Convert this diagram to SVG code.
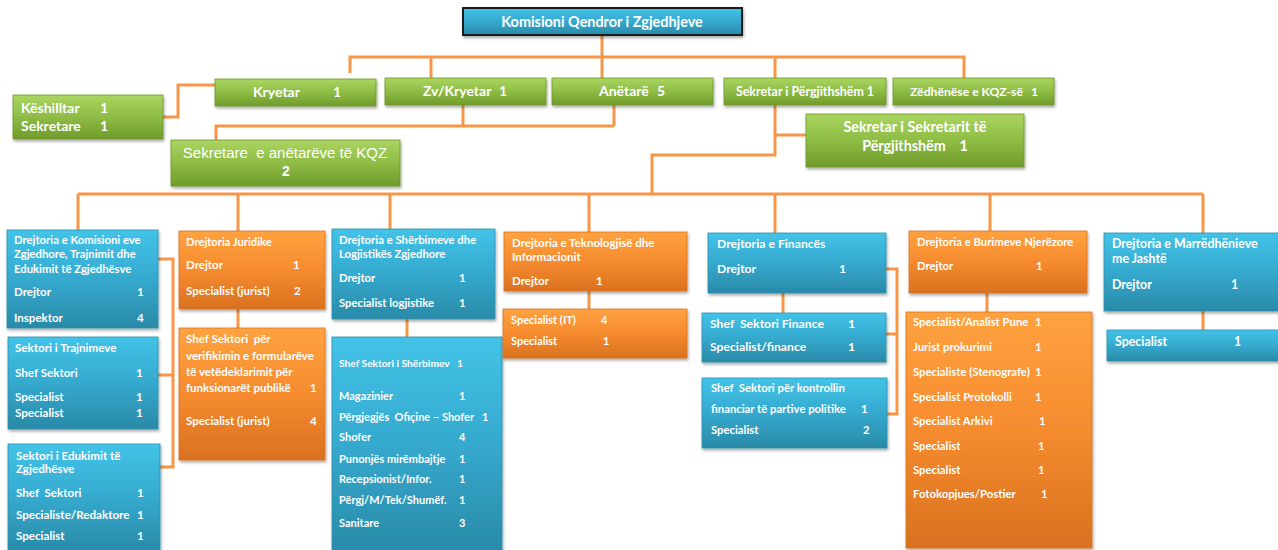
<svg xmlns="http://www.w3.org/2000/svg" width="1278" height="550" viewBox="0 0 1278 550">
<style>
.c{fill:none;stroke:#F79646;stroke-width:3}
.t{font-family:Lato,"Liberation Sans",sans-serif;font-weight:700;fill:#fff;font-size:11px}
.b{fill:url(#gb);stroke:#2C8FAE;stroke-width:0.8;filter:url(#sh)}
.o{fill:url(#go);stroke:#D97320;stroke-width:0.8;filter:url(#sh)}
.g{fill:url(#gg);stroke:#6E962C;stroke-width:0.8;filter:url(#sh)}
</style>
<defs>
<linearGradient id="gb" x1="0" y1="0" x2="0" y2="1"><stop offset="0" stop-color="#43C3E8"/><stop offset="0.5" stop-color="#35A9CE"/><stop offset="1" stop-color="#2A8AA8"/></linearGradient>
<linearGradient id="go" x1="0" y1="0" x2="0" y2="1"><stop offset="0" stop-color="#FFA23F"/><stop offset="0.5" stop-color="#F68B2F"/><stop offset="1" stop-color="#D9711F"/></linearGradient>
<linearGradient id="gg" x1="0" y1="0" x2="0" y2="1"><stop offset="0" stop-color="#AAD561"/><stop offset="0.5" stop-color="#8EBC45"/><stop offset="1" stop-color="#709B2B"/></linearGradient>
<filter id="sh" x="-10%" y="-10%" width="120%" height="130%"><feDropShadow dx="1" dy="2" stdDeviation="1.5" flood-color="#000" flood-opacity="0.35"/></filter>
</defs>

<g id="connectors">
<path class="c" d="M602,34V78"/>
<path class="c" d="M350,73V57H964V78"/>
<path class="c" d="M431,57V78M775,57V78"/>
<path class="c" d="M163,117H178V85H215"/>
<path class="c" d="M463,105V126M614,105V126M216,140V126H614"/>
<path class="c" d="M775,105V155H652V194M775,135H806"/>
<path class="c" d="M78,194H1203"/>
<path class="c" d="M78,194V230M238,194V231M390,194V229M589,194V232M775,194V233M990,194V231M1203,194V233"/>
<path class="c" d="M158,259H173V467H160M173,375H158"/>
<path class="c" d="M238,309V328M407,319V337M589,291V309M783,293V313M987,293V312M1203,311V330"/>
<path class="c" d="M886,269H897V414H887M897,334H886"/>
</g>

<g id="kqz">
<rect x="463" y="8" width="279" height="27" fill="url(#gb)" stroke="#1a1a1a" stroke-width="2" filter="url(#sh)"/>
<text class="t" x="602" y="27" style="font-size:14.4px" text-anchor="middle">Komisioni Qendror i Zgjedhjeve</text>
</g>

<g id="kryetar">
<rect class="g" x="215" y="79" width="161" height="27"/>
<text class="t" style="font-size:14px" y="97"><tspan x="253">Kryetar</tspan><tspan x="333">1</tspan></text>
</g>
<g id="zvkryetar">
<rect class="g" x="385" y="78" width="161" height="27"/>
<text class="t" style="font-size:14px" y="96"><tspan x="423">Zv/Kryetar</tspan><tspan x="499">1</tspan></text>
</g>
<g id="anetare">
<rect class="g" x="552" y="78" width="161" height="27"/>
<text class="t" style="font-size:14px" y="96"><tspan x="599">Anëtarë</tspan><tspan x="657">5</tspan></text>
</g>
<g id="sekretar">
<rect class="g" x="724" y="78" width="162" height="27"/>
<text class="t" style="font-size:12.4px" y="96" x="805" text-anchor="middle">Sekretar i Përgjithshëm 1</text>
</g>
<g id="zedhenese">
<rect class="g" x="893" y="78" width="161" height="27"/>
<text class="t" style="font-size:12.2px" y="96"><tspan x="910">Zëdhënëse e KQZ-së</tspan><tspan x="1031">1</tspan></text>
</g>

<g id="keshilltar">
<rect class="g" x="13" y="95" width="150" height="44"/>
<text class="t" style="font-size:14px"><tspan x="21" y="113">Këshilltar</tspan><tspan x="100" y="113">1</tspan><tspan x="21" y="131">Sekretare</tspan><tspan x="100" y="131">1</tspan></text>
</g>

<g id="sekretare-anetareve">
<rect class="g" x="171" y="140" width="229" height="46"/>
<text x="285" y="158" font-family="'Liberation Sans',Arial,sans-serif" font-size="15" fill="#fff" text-anchor="middle" xml:space="preserve">Sekretare  e anëtarëve të KQZ</text>
<text x="286" y="176" font-family="'Liberation Sans',Arial,sans-serif" font-weight="700" font-size="14" fill="#fff" text-anchor="middle">2</text>
</g>

<g id="sekretar-sekretarit">
<rect class="g" x="806" y="114" width="218" height="53"/>
<text class="t" style="font-size:14.3px" text-anchor="middle"><tspan x="915" y="132">Sekretar i Sekretarit të</tspan><tspan x="915" y="151" xml:space="preserve">Përgjithshëm    1</tspan></text>
</g>

<g id="drejt-komisioni">
<rect class="b" x="7" y="230" width="151" height="98"/>
<text class="t" style="font-size:11.5px"><tspan x="14" y="244" style="font-size:11.3px">Drejtoria e Komisioni eve</tspan><tspan x="14" y="258" style="font-size:11.3px">Zgjedhore, Trajnimit dhe</tspan><tspan x="14" y="273" style="font-size:11.3px">Edukimit të Zgjedhësve</tspan><tspan x="14" y="296">Drejtor</tspan><tspan x="137" y="296">1</tspan><tspan x="14" y="322">Inspektor</tspan><tspan x="137" y="322">4</tspan></text>
</g>
<g id="sektori-trajnimeve">
<rect class="b" x="8" y="337" width="150" height="92"/>
<text class="t" style="font-size:11.6px"><tspan x="15" y="352">Sektori i Trajnimeve</tspan><tspan x="15" y="377">Shef Sektori</tspan><tspan x="136" y="377">1</tspan><tspan x="15" y="401">Specialist</tspan><tspan x="136" y="401">1</tspan><tspan x="15" y="417">Specialist</tspan><tspan x="136" y="417">1</tspan></text>
</g>
<g id="sektori-edukimit">
<rect class="b" x="8" y="444" width="152" height="108"/>
<text class="t" style="font-size:11.6px"><tspan x="16" y="460">Sektori i Edukimit të</tspan><tspan x="16" y="473">Zgjedhësve</tspan><tspan x="16" y="497" xml:space="preserve">Shef  Sektori</tspan><tspan x="137" y="497">1</tspan><tspan x="16" y="519">Specialiste/Redaktore</tspan><tspan x="137" y="519">1</tspan><tspan x="16" y="540">Specialist</tspan><tspan x="137" y="540">1</tspan></text>
</g>

<g id="drejt-juridike">
<rect class="o" x="179" y="231" width="146" height="78"/>
<text class="t" style="font-size:11.5px"><tspan x="186" y="246" style="font-size:11.2px">Drejtoria Juridike</tspan><tspan x="186" y="269">Drejtor</tspan><tspan x="293" y="269">1</tspan><tspan x="186" y="295">Specialist (jurist)</tspan><tspan x="294" y="295">2</tspan></text>
</g>
<g id="sektori-verifikimit">
<rect class="o" x="179" y="328" width="146" height="132"/>
<text class="t" style="font-size:11.5px" xml:space="preserve"><tspan x="186" y="343">Shef Sektori  për</tspan><tspan x="186" y="360">verifikimin e formularëve</tspan><tspan x="186" y="376">të vetëdeklarimit për</tspan><tspan x="186" y="392">funksionarët publikë</tspan><tspan x="310" y="392">1</tspan><tspan x="186" y="425">Specialist (jurist)</tspan><tspan x="310" y="425">4</tspan></text>
</g>

<g id="drejt-sherbimeve">
<rect class="b" x="332" y="229" width="163" height="90"/>
<text class="t" style="font-size:11.3px"><tspan x="339" y="244">Drejtoria e Shërbimeve dhe</tspan><tspan x="339" y="258">Logjistikës Zgjedhore</tspan><tspan x="339" y="282">Drejtor</tspan><tspan x="459" y="282">1</tspan><tspan x="339" y="307">Specialist logjistike</tspan><tspan x="459" y="307">1</tspan></text>
</g>
<g id="sektori-sherbimeve">
<rect class="b" x="332" y="337" width="170" height="215"/>
<text class="t" xml:space="preserve"><tspan x="339" y="367" style="font-size:10.2px">Shef Sektori i Shërbimev</tspan><tspan x="457" y="367" style="font-size:10.2px">1</tspan><tspan x="339" y="400">Magazinier</tspan><tspan x="459" y="400">1</tspan><tspan x="339" y="421">Përgjegjës  Ofiçine – Shofer</tspan><tspan x="482" y="421">1</tspan><tspan x="339" y="441">Shofer</tspan><tspan x="459" y="441">4</tspan><tspan x="339" y="463">Punonjës mirëmbajtje</tspan><tspan x="459" y="463">1</tspan><tspan x="339" y="483">Recepsionist/Infor.</tspan><tspan x="459" y="483">1</tspan><tspan x="339" y="504">Përgj/M/Tek/Shumëf.</tspan><tspan x="459" y="504">1</tspan><tspan x="339" y="527">Sanitare</tspan><tspan x="459" y="527">3</tspan></text>
</g>

<g id="drejt-teknologjise">
<rect class="o" x="504" y="232" width="183" height="59"/>
<text class="t" style="font-size:11.5px"><tspan x="512" y="247">Drejtoria e Teknologjisë dhe</tspan><tspan x="512" y="261">Informacionit</tspan><tspan x="512" y="285">Drejtor</tspan><tspan x="596" y="285">1</tspan></text>
</g>
<g id="specialist-it">
<rect class="o" x="503" y="309" width="184" height="49"/>
<text class="t"><tspan x="511" y="324">Specialist (IT)</tspan><tspan x="601" y="324">4</tspan><tspan x="511" y="345">Specialist</tspan><tspan x="603" y="345">1</tspan></text>
</g>

<g id="drejt-finances">
<rect class="b" x="708" y="233" width="178" height="60"/>
<text class="t" style="font-size:12.2px"><tspan x="717" y="248">Drejtoria e Financës</tspan><tspan x="717" y="273">Drejtor</tspan><tspan x="839" y="273">1</tspan></text>
</g>
<g id="sektori-finance">
<rect class="b" x="702" y="313" width="184" height="49"/>
<text class="t" style="font-size:12.2px" xml:space="preserve"><tspan x="710" y="328">Shef  Sektori Finance</tspan><tspan x="848" y="328">1</tspan><tspan x="710" y="351">Specialist/finance</tspan><tspan x="848" y="351">1</tspan></text>
</g>
<g id="sektori-kontrollit">
<rect class="b" x="702" y="378" width="185" height="70"/>
<text class="t" style="font-size:11.3px" xml:space="preserve"><tspan x="711" y="392">Shef  Sektori për kontrollin</tspan><tspan x="711" y="413">financiar të partive politike</tspan><tspan x="861" y="413">1</tspan><tspan x="711" y="434">Specialist</tspan><tspan x="863" y="434">2</tspan></text>
</g>

<g id="drejt-burimeve">
<rect class="o" x="909" y="231" width="178" height="62"/>
<text class="t" style="font-size:11.3px"><tspan x="917" y="246">Drejtoria e Burimeve Njerëzore</tspan><tspan x="917" y="270">Drejtor</tspan><tspan x="1036" y="270">1</tspan></text>
</g>
<g id="sektori-burimeve">
<rect class="o" x="906" y="312" width="186" height="236"/>
<text class="t" style="font-size:11.3px"><tspan x="913" y="326">Specialist/Analist Pune</tspan><tspan x="1035" y="326">1</tspan><tspan x="913" y="351">Jurist prokurimi</tspan><tspan x="1035" y="351">1</tspan><tspan x="913" y="376">Specialiste (Stenografe)</tspan><tspan x="1035" y="376">1</tspan><tspan x="913" y="401">Specialist Protokolli</tspan><tspan x="1035" y="401">1</tspan><tspan x="913" y="425">Specialist Arkivi</tspan><tspan x="1039" y="425">1</tspan><tspan x="913" y="450">Specialist</tspan><tspan x="1038" y="450">1</tspan><tspan x="913" y="474">Specialist</tspan><tspan x="1038" y="474">1</tspan><tspan x="913" y="498">Fotokopjues/Postier</tspan><tspan x="1041" y="498">1</tspan></text>
</g>

<g id="drejt-marredhenieve">
<rect class="b" x="1104" y="233" width="178" height="78"/>
<text class="t" style="font-size:12.4px"><tspan x="1112" y="248">Drejtoria e Marrëdhënieve</tspan><tspan x="1112" y="263">me Jashtë</tspan><tspan x="1112" y="289">Drejtor</tspan><tspan x="1231" y="289">1</tspan></text>
</g>
<g id="specialist-jashte">
<rect class="b" x="1107" y="330" width="175" height="31"/>
<text class="t" style="font-size:12.4px"><tspan x="1115" y="346">Specialist</tspan><tspan x="1234" y="346">1</tspan></text>
</g>
</svg>
